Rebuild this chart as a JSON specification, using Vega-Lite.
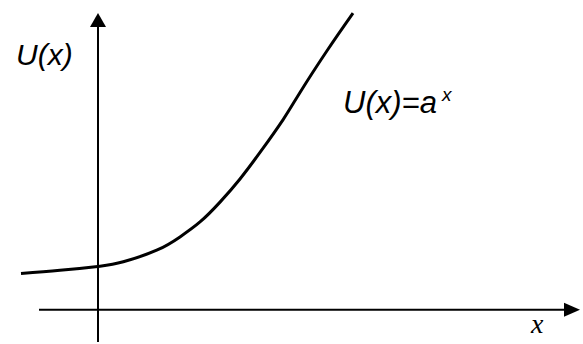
{
  "$schema": "https://vega.github.io/schema/vega-lite/v6.json",
  "width": 583,
  "height": 344,
  "autosize": {"type": "fit", "contains": "padding"},
  "padding": 0,
  "background": "white",
  "config": {"view": {"stroke": null}},
  "datasets": {
    "curve": [
      {"x": -1.54, "y": 0.83},
      {"x": -0.76, "y": 0.90},
      {"x": 0.04, "y": 0.995},
      {"x": 0.506, "y": 1.095},
      {"x": 1.174, "y": 1.359},
      {"x": 1.64, "y": 1.664},
      {"x": 2.04, "y": 2.005},
      {"x": 2.44, "y": 2.459},
      {"x": 2.84, "y": 2.989},
      {"x": 3.24, "y": 3.595},
      {"x": 3.706, "y": 4.352},
      {"x": 4.04, "y": 4.966},
      {"x": 4.58, "y": 5.92},
      {"x": 5.10, "y": 6.78}
    ],
    "axes": [
      {"x": 0, "y": -0.74, "x2": 0, "y2": 6.47},
      {"x": -1.18, "y": 0, "x2": 9.34, "y2": 0}
    ],
    "yarrow": [{"x": 0, "y": 6.62}],
    "xarrow": [{"x": 9.48, "y": 0}],
    "labels": [
      {"x": -1.64, "y": 5.60, "text": "U(x)"}
    ],
    "labels2": [
      {"x": 4.9, "y": 4.49, "text": "U(x)=a"}
    ],
    "sup": [{"x": 6.88, "y": 4.76, "text": "x"}],
    "xlab": [{"x": 8.66, "y": -0.534, "text": "x"}]
  },
  "layer": [
    {
      "data": {"name": "axes"},
      "mark": {"type": "rule", "color": "black", "strokeWidth": 2},
      "encoding": {
        "x": {"field": "x", "type": "quantitative", "scale": {"domain": [-1.96, 9.7], "nice": false, "zero": false}, "axis": null},
        "y": {"field": "y", "type": "quantitative", "scale": {"domain": [-0.7386, 7.0795], "nice": false, "zero": false}, "axis": null},
        "x2": {"field": "x2"},
        "y2": {"field": "y2"}
      }
    },
    {
      "data": {"name": "yarrow"},
      "mark": {"type": "point", "shape": "M-1,0.875L0,-0.875L1,0.875Z", "filled": true, "color": "black", "opacity": 1, "size": 256},
      "encoding": {
        "x": {"field": "x", "type": "quantitative"},
        "y": {"field": "y", "type": "quantitative"}
      }
    },
    {
      "data": {"name": "xarrow"},
      "mark": {"type": "point", "shape": "M-1,-0.875L1,0L-1,0.875Z", "filled": true, "color": "black", "opacity": 1, "size": 256},
      "encoding": {
        "x": {"field": "x", "type": "quantitative"},
        "y": {"field": "y", "type": "quantitative"}
      }
    },
    {
      "data": {"name": "curve"},
      "mark": {"type": "line", "color": "black", "strokeWidth": 3, "interpolate": "natural"},
      "encoding": {
        "x": {"field": "x", "type": "quantitative"},
        "y": {"field": "y", "type": "quantitative"}
      }
    },
    {
      "data": {"name": "labels"},
      "mark": {"type": "text", "font": "Liberation Sans", "fontStyle": "italic", "fontSize": 30, "align": "left", "baseline": "alphabetic", "color": "black"},
      "encoding": {
        "x": {"field": "x", "type": "quantitative"},
        "y": {"field": "y", "type": "quantitative"},
        "text": {"field": "text"}
      }
    },
    {
      "data": {"name": "labels2"},
      "mark": {"type": "text", "font": "Liberation Sans", "fontStyle": "italic", "fontSize": 31, "align": "left", "baseline": "alphabetic", "color": "black"},
      "encoding": {
        "x": {"field": "x", "type": "quantitative"},
        "y": {"field": "y", "type": "quantitative"},
        "text": {"field": "text"}
      }
    },
    {
      "data": {"name": "sup"},
      "mark": {"type": "text", "font": "Liberation Sans", "fontStyle": "italic", "fontSize": 19, "align": "left", "baseline": "alphabetic", "color": "black"},
      "encoding": {
        "x": {"field": "x", "type": "quantitative"},
        "y": {"field": "y", "type": "quantitative"},
        "text": {"field": "text"}
      }
    },
    {
      "data": {"name": "xlab"},
      "mark": {"type": "text", "font": "Liberation Serif", "fontStyle": "italic", "fontSize": 28, "align": "left", "baseline": "alphabetic", "color": "black"},
      "encoding": {
        "x": {"field": "x", "type": "quantitative"},
        "y": {"field": "y", "type": "quantitative"},
        "text": {"field": "text"}
      }
    }
  ]
}
